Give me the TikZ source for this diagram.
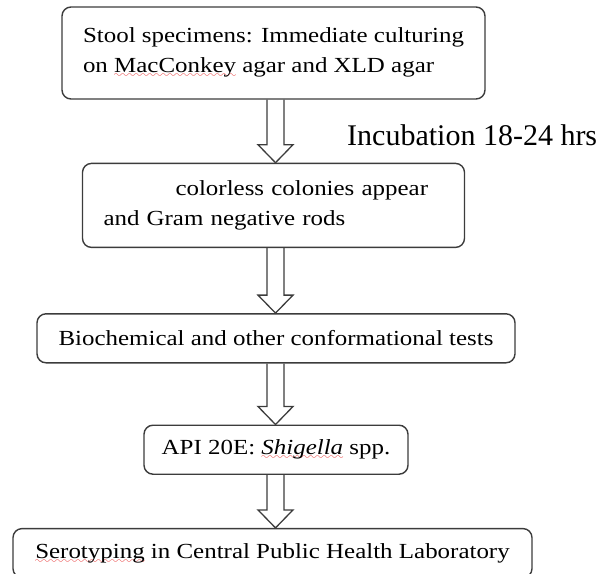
\documentclass[tikz,border=0pt]{standalone}
\usepackage{fontspec}
\setmainfont{Liberation Serif}[FakeStretch=1.16]
\newfontfamily\incubfont{Liberation Serif}
\usepackage{xcolor}
\usepackage{tikz}
\usetikzlibrary{positioning,calc}
\definecolor{boxgray}{RGB}{60,60,60}
\definecolor{spellred}{RGB}{230,30,30}
\font\wavefont=lasy10
\newcommand\spellwave[1]{\setbox0\hbox{#1}%
    \rlap{\lower5pt\hbox to\wd0{\color{spellred}\xleaders\hbox{\wavefont\char58}\hfil}}\box0\relax}

\begin{document}
\begin{tikzpicture}[
    x=1pt, y=1pt,
    stepbox/.style={rectangle, rounded corners=9pt, draw=boxgray, fill=white,
                    line width=1.4pt, minimum height=49pt, inner ysep=2pt,
                    font=\fontsize{21.5pt}{30pt}\selectfont},
    hollow/.style={draw=boxgray, line width=1.3pt, line join=miter},
]
    \useasboundingbox (0,0) rectangle (602,-573);
    \coordinate (axis) at (275.5,0);

    % Boxes
    \node[stepbox, minimum width=423pt, minimum height=92pt, align=left] (stool) at (273.5,-53)
        {Stool specimens: Immediate culturing\\on \spellwave{MacConkey} agar and XLD agar};
    \node[stepbox, minimum width=382pt, minimum height=84pt, inner xsep=21pt,
          text width=340pt, align=left, below=63pt of stool] (colonies)
        {\hspace*{72pt}colorless colonies appear\\and Gram negative rods};
    \node[stepbox, minimum width=478pt, below=65pt of colonies, xshift=2.5pt] (biochem)
        {Biochemical and other conformational tests};
    \node[stepbox, minimum width=264pt, below=61pt of biochem] (api)
        {API 20E: \spellwave{\textit{Shigella}} spp.};
    \node[stepbox, minimum width=519pt, below=53pt of api, xshift=-3.5pt] (sero)
        {\spellwave{Serotyping} in Central Public Health Laboratory};

    % Incubation note
    \node[anchor=base west, inner sep=0pt, font=\incubfont\fontsize{30pt}{34pt}\selectfont]
        (incub) at (347,-145) {Incubation 18-24 hrs};

    % Hollow arrows between boxes
    \foreach \from/\to in {stool/colonies, colonies/biochem, biochem/api, api/sero} {
        \draw[hollow] ($(axis |- \from.south)+(-8.5,0)$) -- ($(axis |- \to.north)+(-8.5,18)$)
            -- ++(-9,0) -- (axis |- \to.north) -- ++(17.5,18) -- ++(-9,0)
            -- ($(axis |- \from.south)+(8.5,0)$);
    }
\end{tikzpicture}
\end{document}
